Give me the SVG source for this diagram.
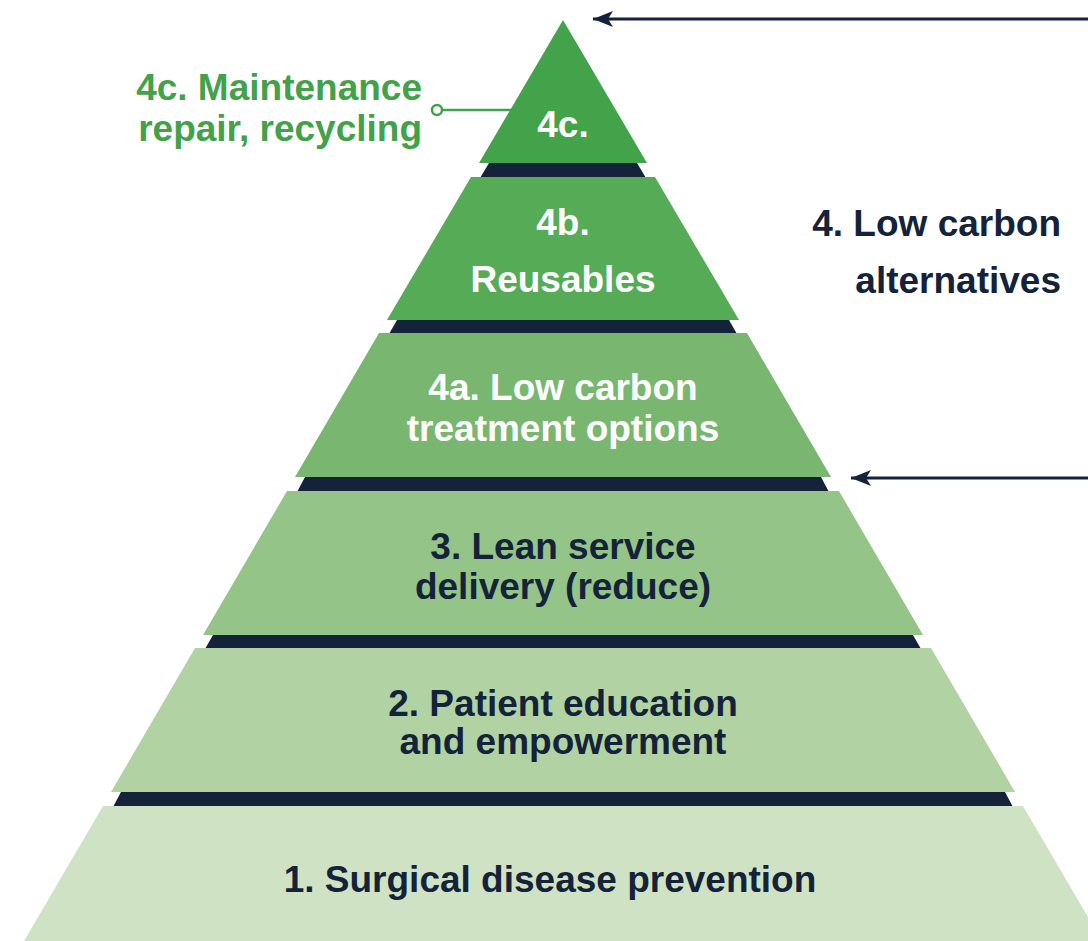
<svg xmlns="http://www.w3.org/2000/svg" width="1088" height="941" viewBox="0 0 1088 941">
<style>
  text { font-family: "Liberation Sans", Arial, sans-serif; font-weight: bold; font-size: 37px; text-anchor: middle; }
  .w { fill: #ffffff; }
  .d { fill: #14233a; }
  .g { fill: #41a24a; }
  .band { fill: #14233a; }
</style>
<defs>
  <marker id="ah" markerUnits="userSpaceOnUse" markerWidth="22" markerHeight="16" refX="20" refY="8" orient="auto">
    <path d="M0,0 L20,8 L0,16 L5,8 Z" fill="#14233a"/>
  </marker>
</defs>
<rect width="1088" height="941" fill="#ffffff"/>
<g id="bands">
  <polygon class="band" points="489,163 637,163 646,178 480,178"/>
  <polygon class="band" points="397,320 729,320 737,334 389,334"/>
  <polygon class="band" points="305,477 821,477 829,492 297,492"/>
  <polygon class="band" points="213,635 913,635 921,649 205,649"/>
  <polygon class="band" points="121,792 1005,792 1013,807 113,807"/>
</g>
<g id="layer-4c">
  <polygon points="563,20 647,163 479,163" fill="#43a34a"/>
  <text class="w" x="563" y="137">4c.</text>
</g>
<g id="layer-4b">
  <polygon points="471,177 655,177 739,320 387,320" fill="#56ab56"/>
  <text class="w" x="563" y="235">4b.</text>
  <text class="w" x="563" y="292">Reusables</text>
</g>
<g id="layer-4a">
  <polygon points="379,333 747,333 831,477 295,477" fill="#79b771"/>
  <text class="w" x="563" y="400">4a. Low carbon</text>
  <text class="w" x="563" y="441">treatment options</text>
</g>
<g id="layer-3">
  <polygon points="287,491 839,491 923,635 203,635" fill="#95c488"/>
  <text class="d" x="563" y="559">3. Lean service</text>
  <text class="d" x="563" y="599">delivery (reduce)</text>
</g>
<g id="layer-2">
  <polygon points="195,648 931,648 1015,792 111,792" fill="#b1d3a3"/>
  <text class="d" x="563" y="716">2. Patient education</text>
  <text class="d" x="563" y="754">and empowerment</text>
</g>
<g id="layer-1">
  <polygon points="103,806 1023,806 1102,941 24,941" fill="#cfe3c4"/>
  <text class="d" x="550" y="892">1. Surgical disease prevention</text>
</g>
<g id="label-4c">
  <text class="g" x="422" y="100" style="text-anchor:end">4c. Maintenance</text>
  <text class="g" x="422" y="141" style="text-anchor:end">repair, recycling</text>
</g>
<g id="label-4">
  <text class="d" x="1061" y="236" style="text-anchor:end">4. Low carbon</text>
  <text class="d" x="1061" y="293" style="text-anchor:end">alternatives</text>
</g>
<g id="connectors">
  <line x1="442" y1="110" x2="512" y2="110" stroke="#41a24a" stroke-width="2.5"/>
  <circle cx="437" cy="110" r="5" fill="#ffffff" stroke="#41a24a" stroke-width="2.5"/>
  <line x1="1090" y1="19" x2="593" y2="19" stroke="#14233a" stroke-width="3" marker-end="url(#ah)"/>
  <line x1="1090" y1="478" x2="851" y2="478" stroke="#14233a" stroke-width="3" marker-end="url(#ah)"/>
</g>
</svg>
